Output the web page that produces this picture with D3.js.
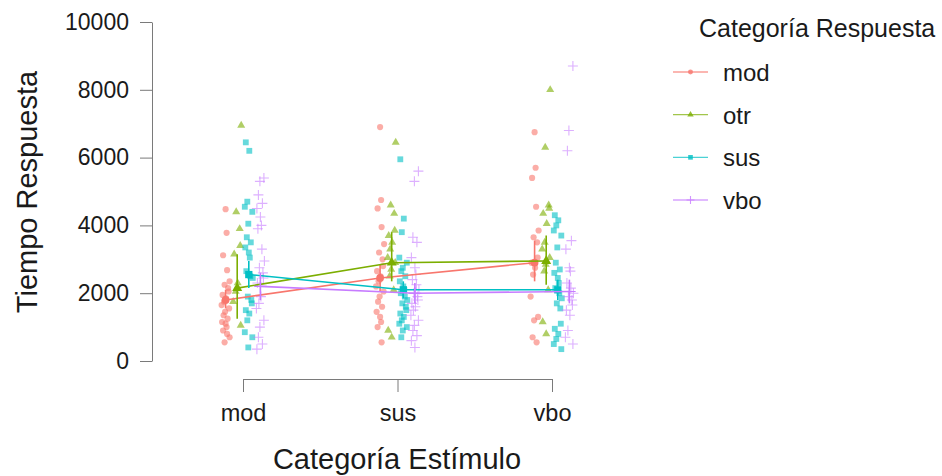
<!DOCTYPE html>
<html>
<head>
<meta charset="utf-8">
<script src="https://cdn.jsdelivr.net/npm/d3@7"></script>
<style>
  html, body { margin: 0; padding: 0; background: #ffffff; }
  svg { display: block; font-family: "Liberation Sans", Arial, Helvetica, sans-serif; }
</style>
</head>
<body>
<svg id="chart" width="942" height="476"></svg>
<script>
// ---- Data ----
const categories = ["mod", "sus", "vbo"];          // Categoría Estímulo
const groups = ["mod", "otr", "sus", "vbo"];       // Categoría Respuesta
const groupColors = ["#F8766D", "#7CAE00", "#00BFC4", "#C77CFF"];
const yTicks = [0, 2000, 4000, 6000, 8000, 10000];

// Raw response times: [estimulo][respuesta]
const rt_mod_mod = [4480, 3780, 3120, 2680, 2350, 2250, 2150, 2050, 1950, 1850, 1750, 1650, 1550, 1450, 1350, 1250, 1150, 1100, 1000, 900, 800, 700, 550];
const rt_mod_otr = [6950, 4400, 3900, 3400, 3150, 2300, 2050, 1750, 1050];
const rt_mod_sus = [6450, 6200, 4700, 4550, 4400, 4050, 3650, 3500, 3350, 3200, 3050, 2650, 2500, 2450, 1900, 1800, 1700, 1500, 1400, 1200, 850, 700, 400];
const rt_mod_vbo = [5400, 5300, 4900, 4650, 4500, 4250, 4000, 3900, 3300, 2950, 2750, 2600, 2450, 2300, 1900, 1700, 1550, 1200, 1000, 700, 500, 350];

const rt_sus_mod = [6900, 4750, 4500, 3950, 3450, 3200, 3000, 2800, 2650, 2500, 2350, 2200, 2050, 1900, 1750, 1600, 1450, 1300, 1150, 1000, 550];
const rt_sus_otr = [6450, 4600, 4350, 3850, 3700, 3500, 3300, 3050, 2900, 2700, 2500, 2100, 900, 700];
const rt_sus_sus = [5950, 4200, 3800, 3050, 2900, 2750, 2650, 2500, 2350, 2200, 2100, 2000, 1900, 1800, 1700, 1600, 1500, 1400, 1300, 1200, 1100, 1000, 900, 700];
const rt_sus_vbo = [5600, 5300, 3650, 3500, 3050, 2750, 2550, 2400, 2250, 2100, 2000, 1900, 1800, 1700, 1600, 1500, 1350, 1200, 1050, 900, 750, 600, 400];

const rt_vbo_mod = [6750, 5700, 5400, 4550, 3850, 3650, 3500, 3050, 2900, 2750, 2550, 1900, 1300, 1200, 700, 550];
const rt_vbo_otr = [8000, 6300, 4600, 4500, 4350, 4050, 3500, 3300, 3050, 2850, 2650, 2100, 1150, 800];
const rt_vbo_sus = [4300, 4150, 4000, 3850, 3700, 3350, 2900, 2700, 2600, 2450, 2300, 2150, 2000, 1850, 1700, 1550, 1100, 950, 800, 650, 500, 350];
const rt_vbo_vbo = [8700, 6800, 6200, 3550, 3300, 2750, 2650, 2300, 2150, 2000, 1900, 1800, 1650, 1500, 1350, 900, 700, 500];

// Means per respuesta across estimulo (mod, sus, vbo)
const mean_mod = [1800, 2450, 2900];
const mean_otr = [2150, 2900, 2950];
const mean_sus = [2550, 2100, 2100];
const mean_vbo = [2200, 2000, 2050];
// Interval bounds
const low_mod = [1550, 2050, 2350];
const high_mod = [2100, 2850, 3550];
const low_otr = [1250, 2350, 2250];
const high_otr = [3150, 3800, 3700];
const low_sus = [2150, 1850, 1800];
const high_sus = [2950, 2350, 2400];
const low_vbo = [1800, 1700, 1700];
const high_vbo = [2600, 2300, 2400];

// ---- Build tables ----
const rawTable = {
  mod: { mod: rt_mod_mod, otr: rt_mod_otr, sus: rt_mod_sus, vbo: rt_mod_vbo },
  sus: { mod: rt_sus_mod, otr: rt_sus_otr, sus: rt_sus_sus, vbo: rt_sus_vbo },
  vbo: { mod: rt_vbo_mod, otr: rt_vbo_otr, sus: rt_vbo_sus, vbo: rt_vbo_vbo }
};
const meanTable = { mod: mean_mod, otr: mean_otr, sus: mean_sus, vbo: mean_vbo };
const lowTable = { mod: low_mod, otr: low_otr, sus: low_sus, vbo: low_vbo };
const highTable = { mod: high_mod, otr: high_otr, sus: high_sus, vbo: high_vbo };

// ---- Layout ----
const svg = d3.select("#chart");
const x = d3.scalePoint().domain(categories).range([243, 552]);
const y = d3.scaleLinear().domain([0, 10000]).range([361, 22]);
const color = d3.scaleOrdinal().domain(groups).range(groupColors);
const dodgeStep = 11.6;
const dodge = g => (groups.indexOf(g) - 1.5) * dodgeStep;

const axisColor = "#7a7a7a";
const textColor = "#1a1a1a";

function shapePath(g, scale) {
  const s = scale || 1;
  if (g === "mod") return d3.symbol().type(d3.symbolCircle).size(30 * s * s)();
  if (g === "otr") return d3.symbol().type(d3.symbolTriangle).size(28 * s * s)();
  if (g === "sus") return d3.symbol().type(d3.symbolSquare).size(34 * s * s)();
  const r = 5 * s;
  return `M${-r},0H${r}M0,${-r}V${r}`;
}
function styleShape(sel, g, opacity) {
  if (g === "vbo") {
    sel.attr("fill", "none").attr("stroke", color(g)).attr("stroke-width", 1.1).attr("opacity", opacity);
  } else {
    sel.attr("fill", color(g)).attr("stroke", "none").attr("opacity", opacity);
  }
}

// ---- Axes ----
const yAxis = d3.axisLeft(y).tickValues(yTicks).tickFormat(d3.format("d"))
  .tickSize(12).tickSizeOuter(0).tickPadding(11);
const gy = svg.append("g").attr("transform", "translate(152,0)").call(yAxis);
gy.select(".domain").attr("stroke", axisColor).attr("stroke-width", 1);
gy.selectAll(".tick line").attr("stroke", axisColor).attr("stroke-width", 1);
gy.selectAll(".tick text").attr("font-size", 23).attr("fill", textColor)
  .attr("font-family", "Liberation Sans, Arial, sans-serif");

const xAxis = d3.axisBottom(x).tickSize(13).tickSizeOuter(0).tickPadding(12);
const gx = svg.append("g").attr("transform", "translate(0,379)").call(xAxis);
gx.select(".domain").attr("stroke", axisColor).attr("stroke-width", 1);
gx.selectAll(".tick line").attr("stroke", axisColor).attr("stroke-width", 1);
gx.selectAll(".tick text").attr("font-size", 23.5).attr("fill", textColor)
  .attr("font-family", "Liberation Sans, Arial, sans-serif");

// Axis titles
svg.append("text")
  .attr("transform", "translate(37,192) rotate(-90)")
  .attr("text-anchor", "middle")
  .attr("font-size", 29).attr("fill", textColor)
  .text("Tiempo Respuesta");
svg.append("text")
  .attr("x", 397).attr("y", 469)
  .attr("text-anchor", "middle")
  .attr("font-size", 29).attr("fill", textColor)
  .text("Categoría Estímulo");

// ---- Raw points ----
const jitterPattern = [0, 3, -2, 4, -4, 1, -3, 2, -1, 3.5, -2.5, 0.5, -3.5, 2.5, -0.5, 1.5, -1.5];
const pointsLayer = svg.append("g");
categories.forEach(c => {
  groups.forEach(g => {
    rawTable[c][g].forEach((v, i) => {
      const jx = jitterPattern[(i * 5 + groups.indexOf(g) * 3) % jitterPattern.length];
      const p = pointsLayer.append("path")
        .attr("d", shapePath(g, 1))
        .attr("transform", `translate(${x(c) + dodge(g) + jx},${y(v)})`);
      styleShape(p, g, 0.6);
    });
  });
});

// ---- Means, lines and intervals ----
const meanLayer = svg.append("g");
const line = d3.line().x(d => d[0]).y(d => d[1]);
groups.forEach(g => {
  const pts = categories.map((c, i) => [x(c) + dodge(g), y(meanTable[g][i])]);
  meanLayer.append("path")
    .attr("d", line(pts))
    .attr("fill", "none")
    .attr("stroke", color(g))
    .attr("stroke-width", 1.6);
  categories.forEach((c, i) => {
    const cx = x(c) + dodge(g);
    meanLayer.append("line")
      .attr("x1", cx).attr("x2", cx)
      .attr("y1", y(lowTable[g][i])).attr("y2", y(highTable[g][i]))
      .attr("stroke", color(g)).attr("stroke-width", 1.6);
    const p = meanLayer.append("path")
      .attr("d", shapePath(g, 1.25))
      .attr("transform", `translate(${cx},${y(meanTable[g][i])})`);
    styleShape(p, g, 1);
  });
});

// ---- Legend ----
const legend = svg.append("g");
legend.append("text")
  .attr("x", 699).attr("y", 37)
  .attr("font-size", 25).attr("fill", textColor)
  .text("Categoría Respuesta");
const keyY = d3.scalePoint().domain(groups).range([72, 200]);
groups.forEach(g => {
  const yy = keyY(g);
  legend.append("line")
    .attr("x1", 673).attr("x2", 708)
    .attr("y1", yy).attr("y2", yy)
    .attr("stroke", color(g)).attr("stroke-width", 1.4).attr("opacity", 0.7);
  const p = legend.append("path")
    .attr("d", shapePath(g, 0.8))
    .attr("transform", `translate(690.5,${yy})`);
  styleShape(p, g, 0.8);
  legend.append("text")
    .attr("x", 723).attr("y", yy + 9)
    .attr("font-size", 24).attr("fill", textColor)
    .text(g);
});
</script>
</body>
</html>
